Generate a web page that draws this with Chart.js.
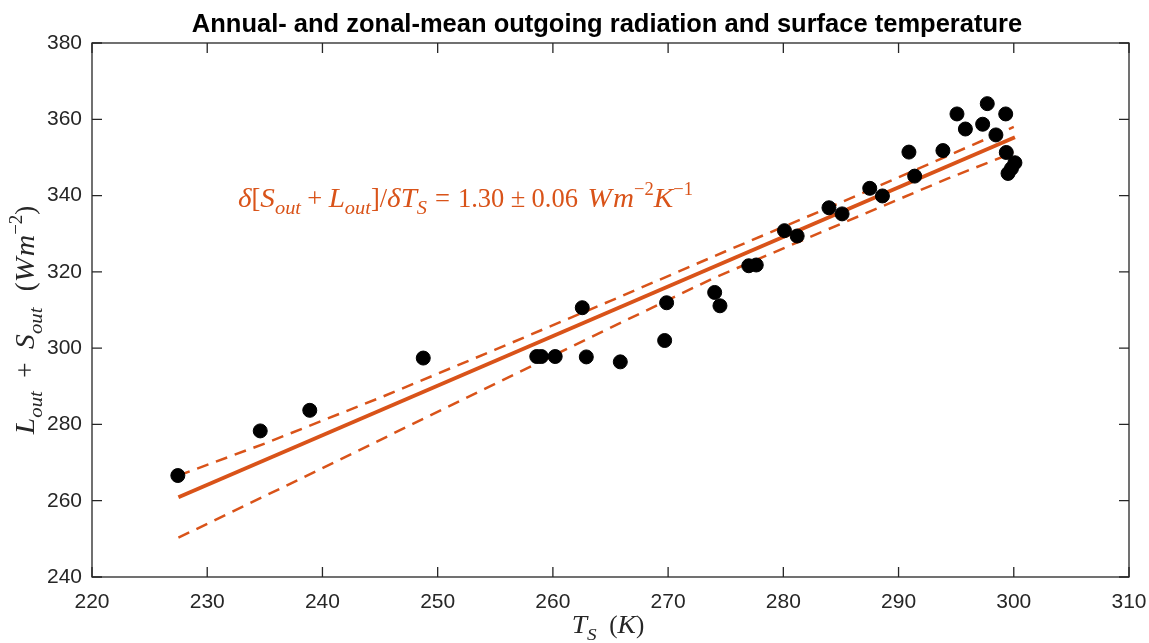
<!DOCTYPE html>
<html>
<head>
<meta charset="utf-8">
<script src="https://cdn.jsdelivr.net/npm/chart.js@4.4.1/dist/chart.umd.min.js"></script>
<style>
  html, body { margin: 0; padding: 0; background: #fff; }
  #wrap { width: 1149px; height: 643px; }
</style>
</head>
<body>
<div id="wrap"><canvas id="radChart" width="1149" height="643"></canvas></div>
<script>
// zonal bands: surface temperature (K) vs outgoing SW + LW (W m^-2)
const surfaceTemp = [227.45, 234.6, 238.9, 248.75, 258.6, 259.0, 260.2, 262.55, 262.9, 265.85,
  269.7, 269.87, 274.04, 274.5, 277.0, 277.65, 280.1, 281.2, 283.96, 285.1,
  287.5, 288.6, 291.4, 290.9, 293.85, 295.07, 295.8, 297.7, 297.3, 299.3,
  298.45, 299.35, 300.1, 299.8, 299.5];
const outgoingRad = [266.6, 278.3, 283.7, 297.4, 297.8, 297.8, 297.8, 310.6, 297.7, 296.4,
  302.0, 311.9, 314.6, 311.1, 321.6, 321.8, 330.8, 329.4, 336.8, 335.2,
  341.9, 339.9, 345.1, 351.4, 351.8, 361.4, 357.45, 364.1, 358.7, 361.4,
  355.9, 351.3, 348.6, 347.1, 345.8];

// regression line end points
const fitTemp = [227.5, 300.1];
const fitRad = [260.9, 355.3];

// uncertainty bounds (dashed)
const upperTemp = [227.5, 235, 245, 255, 265, 275, 285, 300];
const upperRad = [266.6, 275.0, 287.0, 299.6, 312.4, 325.4, 338.2, 358.0];
const lowerTemp = [227.5, 238.2, 253.6, 264.9, 273.9, 285, 294.3, 300];
const lowerRad = [250.3, 265.9, 288.6, 305.2, 318.3, 332.6, 344.5, 351.3];

const xMin = 220, xMax = 310, xStep = 10;
const yMin = 240, yMax = 380, yStep = 20;

const orange = "#D95319";
const axisGrey = "#262626";
const serif = "'Liberation Serif', 'Times New Roman', serif";
const sans = "'Liberation Sans', Arial, sans-serif";
const italicWiden = 1.1; // math italic runs wider than Times italic

const toPoints = (xs, ys) => xs.map((x, i) => ({ x, y: ys[i] }));

// text with italic / sub / superscript pieces; {g: em} is a math space
const drawRich = (ctx, parts, x, y, size, align) => {
  const fontOf = (p) => {
    const s = p.sub || p.sup ? size * 0.7 : size;
    return (p.i ? "italic " : "") + s + "px " + serif;
  };
  const widthOf = (p) => {
    if (p.g) return p.g * size;
    ctx.font = fontOf(p);
    return ctx.measureText(p.t).width * (p.i ? italicWiden : 1);
  };
  const total = parts.reduce((s, p) => s + widthOf(p), 0);
  let cx = align === "center" ? x - total / 2 : x;
  ctx.textAlign = "left";
  ctx.textBaseline = "alphabetic";
  parts.forEach((p) => {
    const w = widthOf(p);
    if (!p.g) {
      ctx.font = fontOf(p);
      const dy = p.sub ? size * 0.28 : p.sup ? -size * 0.45 : 0;
      ctx.save();
      ctx.translate(cx, y + dy);
      if (p.i) ctx.scale(italicWiden, 1);
      ctx.fillText(p.t, 0, 0);
      ctx.restore();
    }
    cx += w;
  });
  return total;
};

const slopeText = [
  { t: "δ", i: true }, { t: "[" }, { t: "S", i: true }, { t: "out", i: true, sub: true },
  { g: 0.24 }, { t: "+" }, { g: 0.24 }, { t: "L", i: true }, { t: "out", i: true, sub: true },
  { t: "]/" }, { t: "δ", i: true }, { t: "T", i: true }, { t: "S", i: true, sub: true },
  { g: 0.3 }, { t: "=" }, { g: 0.3 }, { t: "1.30" }, { g: 0.24 }, { t: "±" }, { g: 0.24 },
  { t: "0.06" }, { g: 0.36 }, { t: "W", i: true }, { g: 0.05 }, { t: "m", i: true }, { t: "−2", sup: true },
  { t: "K", i: true }, { t: "−1", sup: true },
];
const yTitle = [
  { t: "L", i: true }, { t: "out", i: true, sub: true }, { g: 0.5 }, { t: "+" }, { g: 0.5 },
  { t: "S", i: true }, { t: "out", i: true, sub: true }, { g: 0.6 }, { t: "(" },
  { t: "W", i: true }, { g: 0.05 }, { t: "m", i: true }, { t: "−2", sup: true }, { t: ")" },
];
const xTitle = [
  { t: "T", i: true }, { t: "S", i: true, sub: true }, { g: 0.5 }, { t: "(" },
  { t: "K", i: true }, { t: ")" },
];

// box with inward ticks on all four sides, plus titles and annotation
const frame = {
  id: "frame",
  afterDraw(chart) {
    const { ctx, chartArea: a, scales } = chart;
    const tick = 10;
    ctx.save();
    ctx.strokeStyle = axisGrey;
    ctx.lineWidth = 1.3;
    ctx.strokeRect(a.left, a.top, a.right - a.left, a.bottom - a.top);
    ctx.beginPath();
    scales.x.ticks.forEach((t) => {
      const px = scales.x.getPixelForValue(t.value);
      ctx.moveTo(px, a.bottom); ctx.lineTo(px, a.bottom - tick);
      ctx.moveTo(px, a.top); ctx.lineTo(px, a.top + tick);
    });
    scales.y.ticks.forEach((t) => {
      const py = scales.y.getPixelForValue(t.value);
      ctx.moveTo(a.left, py); ctx.lineTo(a.left + tick, py);
      ctx.moveTo(a.right, py); ctx.lineTo(a.right - tick, py);
    });
    ctx.stroke();

    ctx.fillStyle = "#000";
    ctx.font = "bold 25.5px " + sans;
    ctx.textAlign = "center";
    ctx.textBaseline = "alphabetic";
    ctx.fillText("Annual- and zonal-mean outgoing radiation and surface temperature", 607, 32);

    ctx.fillStyle = orange;
    drawRich(ctx, slopeText, 238, 207, 26.5, "left");

    ctx.fillStyle = axisGrey;
    drawRich(ctx, xTitle, 608, 633, 25, "center");
    ctx.translate(34, 320);
    ctx.rotate(-Math.PI / 2);
    drawRich(ctx, yTitle, 0, 0, 27, "center");
    ctx.restore();
  },
};

new Chart(document.getElementById("radChart"), {
  type: "scatter",
  data: {
    datasets: [
      {
        label: "Zonal means",
        data: toPoints(surfaceTemp, outgoingRad),
        backgroundColor: "#000",
        borderColor: "#000",
        pointRadius: 7,
        pointHoverRadius: 7,
      },
      {
        label: "Fit",
        data: toPoints(fitTemp, fitRad),
        type: "line",
        showLine: true,
        borderColor: orange,
        borderWidth: 4,
        pointRadius: 0,
        fill: false,
      },
      {
        label: "Upper bound",
        data: toPoints(upperTemp, upperRad),
        type: "line",
        showLine: true,
        borderColor: orange,
        borderWidth: 2.5,
        borderDash: [12, 8],
        pointRadius: 0,
        fill: false,
      },
      {
        label: "Lower bound",
        data: toPoints(lowerTemp, lowerRad),
        type: "line",
        showLine: true,
        borderColor: orange,
        borderWidth: 2.5,
        borderDash: [12, 8],
        pointRadius: 0,
        fill: false,
      },
    ],
  },
  options: {
    responsive: false,
    animation: false,
    devicePixelRatio: 1,
    layout: { padding: { top: 43, right: 20, left: 0, bottom: 0 } },
    scales: {
      x: {
        type: "linear",
        min: xMin,
        max: xMax,
        grid: { display: false },
        border: { display: false },
        ticks: {
          stepSize: xStep,
          padding: 5,
          color: axisGrey,
          font: { family: sans, size: 21 },
        },
        afterFit: (scale) => {
          scale.height = 66;
          scale.paddingLeft = 0;
          scale.paddingRight = 0;
        },
      },
      y: {
        type: "linear",
        min: yMin,
        max: yMax,
        grid: { display: false },
        border: { display: false },
        ticks: {
          stepSize: yStep,
          padding: 2,
          color: axisGrey,
          font: { family: sans, size: 21 },
        },
        afterFit: (scale) => {
          scale.width = 92;
          scale.paddingTop = 0;
          scale.paddingBottom = 0;
        },
      },
    },
    plugins: {
      legend: { display: false },
      tooltip: { enabled: false },
    },
  },
  plugins: [frame],
});
</script>
</body>
</html>
